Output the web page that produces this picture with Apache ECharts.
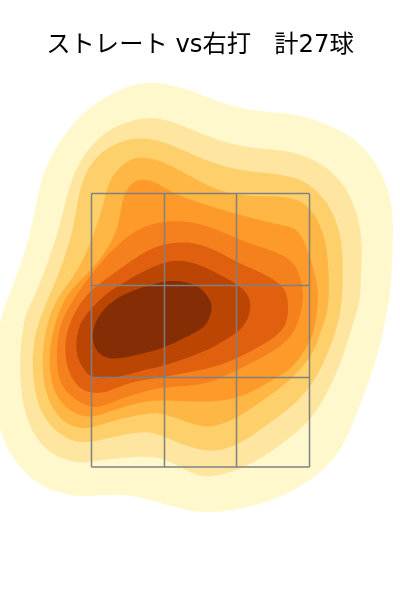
<!DOCTYPE html>
<html><head><meta charset="utf-8">
<style>html,body{margin:0;padding:0;background:#fff}#c{width:400px;height:600px}</style>
<script src="https://cdn.jsdelivr.net/npm/echarts@6/dist/echarts.min.js"></script>
</head><body><div id="c"></div>
<script>
const chartTitle = 'ストレート vs右打   計27球';
const levelColors = ['#fff8cc','#fee6a0','#fed06b','#feb644','#fe9a2a','#f4801e','#e0600f','#bb4503','#852d04'];
const zoneXEdges = [-108.5,-35.5,36.5,109.5];
const zoneYEdges = [133,222.5,314.5,406.5];
const level1 = [[-50,518],[-25,514],[0,506],[33,493],[67,488],[100,485],[133,473],[160,457],[180,430],[190,403],[193,380],[192,330],[189,300],[185,277],[177,243],[163,203],[150,170],[140,150],[123,130],[100,113],[67,98],[33,90],[0,87],[-33,95],[-60,103],[-90,106],[-117,103],[-143,108],[-163,117],[-180,133],[-193,153],[-202,177],[-204,225],[-202,270],[-196,290],[-193,300],[-180,333],[-168,373],[-160,417],[-147,447],[-127,477],[-100,500],[-73,513]];
const level2 = [[-53,483],[-27,478],[0,467],[33,455],[67,451],[93,448],[120,437],[143,417],[157,387],[162,357],[161,328],[160,300],[155,283],[143,243],[127,207],[110,180],[83,157],[50,135],[20,125],[0,123],[-23,135],[-43,143],[-67,143],[-100,140],[-120,137],[-143,143],[-163,160],[-175,187],[-180,220],[-179,260],[-173,290],[-167,300],[-150,343],[-138,383],[-128,423],[-110,453],[-87,473]];
const level3 = [[-57,462],[-33,457],[0,442],[33,431],[67,427],[93,423],[113,413],[130,393],[140,367],[143,337],[142,300],[138,277],[128,247],[109,210],[83,187],[57,168],[33,153],[0,148],[-37,165],[-57,168],[-77,165],[-100,160],[-120,157],[-143,167],[-162,193],[-167,227],[-167,250],[-162,277],[-148,310],[-135,343],[-125,380],[-122,403],[-112,433],[-93,452],[-73,460]];
const level4 = [[-57,443],[-33,437],[0,418],[33,405],[67,404],[93,402],[110,392],[122,370],[128,343],[129,300],[125,280],[115,253],[108,240],[87,217],[60,198],[37,182],[17,175],[0,173],[-37,187],[-53,186],[-77,182],[-100,175],[-117,171],[-137,178],[-150,197],[-157,220],[-157,253],[-150,287],[-137,310],[-120,333],[-108,362],[-98,390],[-93,413],[-83,430],[-70,440]];
const level5 = [[-57,421],[-43,417],[-27,407],[0,397],[33,387],[67,378],[90,373],[100,367],[110,343],[117,317],[118,300],[115,273],[108,255],[93,233],[77,223],[50,207],[27,200],[0,198],[-36,200],[-57,198],[-77,193],[-100,185],[-113,183],[-132,190],[-145,207],[-150,227],[-150,253],[-143,283],[-130,310],[-108,330],[-87,360],[-80,383],[-77,403],[-68,417]];
const level6 = [[-100,337],[-77,360],[-57,373],[-33,379],[0,377],[33,363],[60,353],[83,345],[97,333],[102,313],[103,300],[98,277],[88,260],[67,245],[37,230],[20,222],[0,215],[-36,213],[-57,208],[-77,202],[-97,194],[-110,193],[-127,202],[-140,217],[-143,237],[-142,267],[-133,290],[-120,310]];
const level7 = [[-100,317],[-77,333],[-57,347],[-33,357],[0,357],[33,340],[50,332],[70,323],[83,313],[88,300],[87,277],[75,263],[53,250],[37,242],[20,235],[0,230],[-36,223],[-57,220],[-77,215],[-93,208],[-108,207],[-122,213],[-132,230],[-135,250],[-132,273],[-118,300]];
const level8 = [[-108,292],[-95,305],[-80,315],[-60,327],[-37,337],[-20,340],[0,335],[20,325],[35,317],[47,307],[50,297],[50,287],[43,273],[33,265],[17,255],[0,247],[-36,234],[-53,231],[-73,225],[-95,221],[-108,223],[-113,227],[-122,240],[-124,257],[-120,277]];
const level9 = [[-90,297],[-73,307],[-53,314],[-30,320],[-13,317],[0,313],[10,300],[12,290],[7,277],[0,270],[-20,260],[-37,252],[-67,244],[-87,241],[-100,245],[-107,257],[-107,270],[-102,283]];
const contours = [level1, level2, level3, level4, level5, level6, level7, level8, level9];

// closed outline through the read points (Catmull-Rom, then a light moving average), only for drawing
function outline(pts){
  const raw=[],n=pts.length,steps=8;
  for(let i=0;i<n;i++){
    const a=pts[(i-1+n)%n],b=pts[i],c=pts[(i+1)%n],d=pts[(i+2)%n];
    for(let s=0;s<steps;s++){
      const t=s/steps,t2=t*t,t3=t2*t;
      raw.push([0,1].map(k=>0.5*(2*b[k]+(c[k]-a[k])*t+(2*a[k]-5*b[k]+4*c[k]-d[k])*t2+(3*b[k]-a[k]-3*c[k]+d[k])*t3)));
    }
  }
  const m=raw.length,w=5;
  return raw.map((_,i)=>{
    let x=0,y=0;
    for(let j=-w;j<=w;j++){const q=raw[(i+j+m)%m];x+=q[0];y+=q[1];}
    return [x/(2*w+1),y/(2*w+1)];
  });
}
const chart = echarts.init(document.getElementById('c'), null, {renderer:'canvas'});
const zoneLines = [];
zoneXEdges.forEach(x => zoneLines.push([x, zoneYEdges[0], x, zoneYEdges[3]]));
zoneYEdges.forEach(y => zoneLines.push([zoneXEdges[0], y, zoneXEdges[3], y]));
chart.setOption({
  animation:false,
  backgroundColor:'#fff',
  title:{text:chartTitle,left:'center',top:29,textStyle:{fontSize:24.3,fontWeight:'normal',color:'#000',fontFamily:'"DejaVu Sans","Noto Sans CJK JP",sans-serif'}},
  grid:{left:0,right:0,top:0,bottom:0},
  xAxis:{type:'value',min:-200,max:200,show:false},
  yAxis:{type:'value',min:0,max:600,show:false},
  series:[
    {type:'custom',silent:true,clip:true,data:contours.map((c,i)=>[i]),
      renderItem:(p,api)=>{const i=api.value(0);
        return {type:'polygon',shape:{points:outline(contours[i]).map(q=>api.coord(q))},style:{fill:levelColors[i],stroke:null}};}},
    {type:'custom',silent:true,clip:false,z:5,data:zoneLines,
      renderItem:(p,api)=>{const a=api.coord([api.value(0),api.value(1)]),b=api.coord([api.value(2),api.value(3)]);
        return {type:'line',shape:{x1:a[0],y1:a[1],x2:b[0],y2:b[1]},style:{stroke:'#808080',lineWidth:1.5}};}}
  ]
});
</script></body></html>
